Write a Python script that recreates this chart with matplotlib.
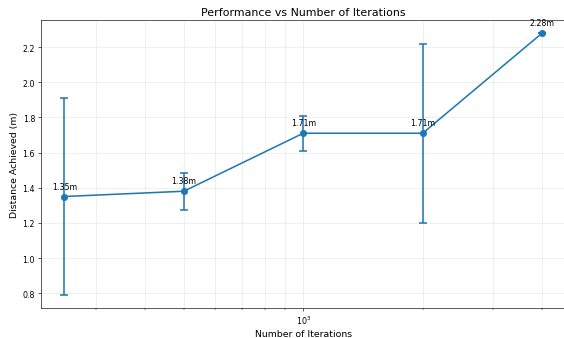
import matplotlib
matplotlib.use("Agg")
import matplotlib.pyplot as plt

iterations = [250, 500, 1000, 2000, 4000]
distances = [1.35, 1.38, 1.71, 1.71, 2.28]
errors = [0.56, 0.105, 0.10, 0.51, 0.0]
labels = ["1.35m", "1.38m", "1.71m", "1.71m", "2.28m"]

fig, ax = plt.subplots(figsize=(10, 6.0106), dpi=56.4)
ax.errorbar(iterations, distances, yerr=errors, fmt='o-', color='#1f77b4',
            linewidth=2, markersize=8, capsize=5, capthick=2)
ax.set_xscale('log')
for x, y, t in zip(iterations, distances, labels):
    ax.annotate(t, (x, y), textcoords='offset points', xytext=(0, 10),
                ha='center', fontsize=10)
ax.set_title('Performance vs Number of Iterations', fontsize=14)
ax.set_xlabel('Number of Iterations', fontsize=12)
ax.set_ylabel('Distance Achieved (m)', fontsize=12)
ax.grid(True, which='both', alpha=0.3)
fig.subplots_adjust(left=40.5/564, right=566/564, top=1-21/339, bottom=1-309/339)
fig.savefig('out.png', dpi=56.4)
